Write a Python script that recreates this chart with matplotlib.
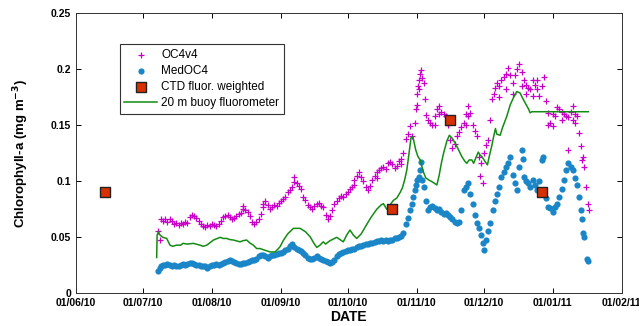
import matplotlib
matplotlib.use('Agg')
import matplotlib.pyplot as plt
import matplotlib.dates as mdates
from matplotlib.ticker import FormatStrFormatter
import numpy as np
import pandas as pd

plt.rcParams.update({'font.family': ['Liberation Sans', 'DejaVu Sans']})

BASE = pd.Timestamp('2010-06-01')

# OC4v4 satellite chl (days since 01/06/10)
oc4_days = [37, 37.5, 38, 39, 40, 41, 42, 43, 44, 45, 46, 47, 48, 49, 50,
            51, 52, 53, 54, 55, 56, 57, 58, 59, 60, 61, 62, 63, 64,
            65, 66, 67, 68, 69, 70, 71, 72, 73, 74, 75, 76, 77, 78, 79, 80,
            81, 82, 83, 84, 85, 86, 87, 88, 89, 90, 91, 92, 93, 94, 95, 96, 97, 98, 99, 100,
            101, 102, 103, 104, 105, 106, 107, 108, 109, 110, 111, 112, 113, 114, 115, 116, 117, 118, 119, 120,
            121, 122, 123, 124, 125, 126, 127, 128, 129, 130, 131, 132, 133, 134, 135, 136, 137, 138, 139, 140,
            141, 142, 143, 144, 145, 146, 147, 148, 149, 150, 151,
            152, 152.5, 153, 153.5, 154, 154.5, 155, 155.5, 156, 156.5, 157,
            158, 159, 160, 161, 162, 163, 164, 165, 166, 167, 168, 169, 170, 171, 172, 173, 174, 175, 176, 177, 178, 179, 180, 181,
            181.5, 182, 182.5, 183, 184, 185, 186, 186.7, 187.5, 188,
            189, 190, 191, 192, 193, 194, 195, 196, 197, 198, 199, 200, 201, 202, 203, 204, 205, 206, 207, 208,
            209, 210, 211, 212, 213, 214, 215, 216, 217, 218, 219, 220, 221, 222, 223, 224, 225, 226,
            226.5, 227, 227.5, 228, 229, 230, 230.3,
            190, 193, 196, 200, 202, 205, 207, 212, 214, 218, 221, 223, 224,
            153, 154, 161, 163, 175, 176, 98, 75, 84, 125, 135, 146]
oc4_vals = [.056, .048, .066, .065, .066, .064, .066, .065, .062, .063, .061, .063, .062, .064, .063,
            .068, .070, .069, .067, .065, .062, .060, .059, .061, .060, .062, .061, .060, .062,
            .065, .068, .069, .070, .068, .066, .067, .069, .071, .072, .078, .074, .073, .069, .064, .062,
            .064, .066, .071, .080, .082, .079, .075, .077, .079, .078, .081, .082, .084, .086, .090, .092, .095, .104, .098, .096,
            .093, .086, .083, .079, .077, .075, .078, .080, .081, .078, .077, .070, .066, .069, .074, .080, .082, .085, .087, .086,
            .089, .090, .093, .095, .101, .105, .108, .104, .100, .095, .092, .096, .101, .105, .108, .110, .112, .113, .111, .116,
            .117, .115, .112, .114, .118, .120, .125, .138, .142, .149, .140,
            .152, .164, .178, .185, .190, .196, .199, .192, .188, .173, .159,
            .155, .152, .150, .158, .164, .167, .162, .160, .158, .150, .137, .130, .133, .140, .144, .148, .152, .160, .167, .161, .150, .145, .140, .122,
            .105, .116, .098, .125, .132, .137, .155, .173, .178, .183,
            .188, .185, .190, .193, .196, .201, .195, .188, .195, .200, .205, .197, .190, .186, .183, .182, .190, .186, .182, .176,
            .185, .193, .172, .161, .152, .149, .158, .166, .164, .162, .160, .158, .157, .162, .167, .160, .158, .143,
            .131, .119, .122, .113, .095, .080, .074,
            .175, .182, .178, .185, .178, .176, .190, .150, .160, .155, .128, .155, .152,
            .168, .182, .150, .160, .150, .158, .099, .075, .077, .097, .103, .115]

# MedOC4 satellite chl
med_days = [37, 37.5, 38, 39, 40, 41, 42, 43, 44, 45, 46, 47, 48, 49, 50,
            51, 52, 53, 54, 55, 56, 57, 58, 59, 60, 61, 62, 63, 64,
            65, 66, 67, 68, 69, 70, 71, 72, 73, 74, 75, 76, 77, 78, 79, 80,
            81, 82, 83, 84, 85, 86, 87, 88, 89, 90, 91, 92, 93, 94, 95, 96, 97, 98, 99, 100,
            101, 102, 103, 104, 105, 106, 107, 108, 109, 110, 111, 112, 113, 114, 115, 116, 117, 118, 119, 120,
            121, 122, 123, 124, 125, 126, 127, 128, 129, 130, 131, 132, 133, 134, 135, 136, 137, 138, 139, 140,
            141, 142, 143, 144, 145, 146, 147, 148, 149, 150, 151, 151.5, 152, 152.5, 153, 154, 154.5, 155, 155.5,
            156, 157, 158, 159, 160, 161, 162, 163, 164, 165, 166, 167, 168, 169, 170, 171, 172,
            173, 174, 175, 176, 177, 178, 179, 180, 181, 182, 182.5, 183, 184, 185, 186, 187, 188, 189, 190,
            191, 192, 193, 194, 195, 196, 197, 198, 199, 200, 200.5, 201, 202, 203, 204, 205, 206, 207, 208, 209, 209.5,
            210, 211, 212, 213, 214, 215, 216, 217, 218, 219, 220, 221, 222, 223, 224, 225, 226, 226.5,
            227, 227.5, 228, 229.5, 230]
med_vals = [.020, .023, .024, .025, .025, .026, .025, .024, .025, .024, .024, .025, .026, .025, .026,
            .027, .027, .026, .025, .025, .024, .024, .024, .023, .024, .025, .025, .026, .025,
            .026, .027, .028, .029, .030, .029, .028, .027, .026, .026, .027, .027, .028, .029, .030, .030,
            .031, .033, .034, .034, .033, .032, .033, .034, .034, .035, .036, .036, .037, .039, .040, .042, .044, .041, .040, .039,
            .038, .036, .034, .032, .031, .031, .032, .033, .032, .031, .030, .029, .028, .027, .028, .030, .033, .035, .036, .037,
            .038, .039, .039, .040, .040, .041, .042, .042, .043, .044, .044, .045, .045, .046, .047, .047, .048, .047, .048, .047,
            .048, .048, .049, .049, .050, .051, .054, .062, .067, .074, .080, .086, .092, .097, .101, .104, .110, .117, .101,
            .095, .082, .074, .077, .078, .076, .074, .075, .073, .071, .072, .070, .068, .066, .064, .063, .064,
            .074, .092, .095, .098, .089, .080, .070, .063, .058, .052, .045, .039, .048, .056, .063, .074, .082, .089, .095,
            .104, .108, .113, .116, .122, .106, .098, .092, .113, .128, .120, .104, .100, .098, .095, .101, .097, .092, .100, .119, .122,
            .092, .085, .077, .076, .073, .077, .080, .086, .093, .101, .110, .116, .113, .110, .103, .097, .086, .074,
            .066, .054, .050, .031, .029]

# CTD fluorescence, depth weighted
ctd_days = [13, 142, 168, 209]
ctd_vals = [0.090, 0.075, 0.155, 0.090]

# 20 m buoy fluorometer
buoy_days = [36.2, 36.4, 37, 37.7, 39, 40.7, 42.2, 43.5, 45, 47, 48, 50, 52.7, 55.7, 57, 58.7, 60,
             61.7, 64.7, 66, 67.7, 69, 70.6, 73.6, 75, 76.6, 78, 79.6, 81.1, 82.6, 84, 85.6, 87, 89.4,
             91.6, 93, 95, 97.6, 100.6, 103, 105.1, 107, 108.1, 109.5, 111, 112, 114, 117, 118.5, 120,
             121.5, 123, 124.5, 126, 128, 130.5, 132.5, 135, 137, 138, 139.5, 141, 142.5, 144, 145.5,
             146.5, 147.5, 148.5, 149.5, 150.4, 151.2, 152.5, 153.5, 154.5, 156, 157, 158.5, 159.7, 161,
             162, 163, 164, 165, 166.5, 167.6, 169, 170.2, 171.5, 173.2, 174.5, 175.4, 176.5, 177.7,
             178.5, 179.5, 180.6, 181.5, 182.2, 183.5, 184.7, 185.5, 186.7, 187.5, 188.3, 188.9, 190.4,
             191.5, 193.4, 194.9, 196.5, 197.9, 199.4, 200.5, 201.6, 203, 203.9, 204.6, 230]
buoy_vals = [.032, .052, .055, .052, .050, .049, .043, .042, .043, .043, .0446, .044, .0446, .043, .042, .043, .045,
             .0476, .050, .049, .049, .048, .0476, .046, .047, .0476, .045, .043, .040, .040, .039, .038, .037, .037,
             .0416, .047, .053, .058, .058, .055, .0505, .044, .041, .043, .046, .044, .047, .050, .048, .046,
             .052, .0565, .052, .049, .053, .0615, .068, .075, .079, .080, .075, .079, .083, .085, .090,
             .094, .101, .110, .125, .139, .140, .128, .122, .119, .108, .103, .101, .0997, .098,
             .0967, .105, .116, .125, .136, .141, .138, .134, .129, .122, .118, .116, .119, .119,
             .116, .121, .126, .123, .122, .118, .1146, .122, .132, .140, .147, .142, .141,
             .148, .158, .168, .175, .180, .1786, .174, .170, .165, .161, .162, .162]


def to_dates(days):
    return BASE + pd.to_timedelta(np.asarray(days), unit='D')


fig, ax = plt.subplots(figsize=(6.39, 3.26), dpi=100)
fig.subplots_adjust(left=0.119, right=0.973, bottom=0.100, top=0.960)

ax.scatter(to_dates(oc4_days), oc4_vals, marker='+', s=22, lw=0.9, color='#C800C8', label='OC4v4', zorder=2)
ax.scatter(to_dates(med_days), med_vals, marker='o', s=20, lw=0, color='#1A86C8', label='MedOC4', zorder=2)
ax.scatter(to_dates(ctd_days), ctd_vals, marker='s', s=48, color='#D83000', edgecolor='#222222', lw=1,
           label='CTD fluor. weighted', zorder=4)
ax.plot(to_dates(buoy_days), buoy_vals, color='#138C13', lw=1.1, label='20 m buoy fluorometer', zorder=3)

ax.set_xlim(pd.Timestamp('2010-06-01'), pd.Timestamp('2011-02-01'))
ax.set_ylim(0, 0.25)
ax.xaxis.set_major_locator(mdates.MonthLocator())
ax.xaxis.set_major_formatter(mdates.DateFormatter('%d/%m/%y'))
ax.yaxis.set_major_formatter(FormatStrFormatter('%g'))
ax.tick_params(direction='in', top=True, right=True, length=3.5, width=0.7, labelsize=7.5)
for lab in ax.get_xticklabels() + ax.get_yticklabels():
    lab.set_fontweight('bold')
for sp in ax.spines.values():
    sp.set_linewidth(0.7)
    sp.set_color('#333333')

ax.set_xlabel('DATE', fontsize=10, fontweight='bold', labelpad=1)
ax.set_ylabel('Chlorophyll-a (mg m$^{\\mathbf{-3}}$)', fontsize=9.5, fontweight='bold', labelpad=14)

leg = ax.legend(loc='upper left', bbox_to_anchor=(0.08, 0.89), borderaxespad=0, fancybox=False,
                framealpha=1, edgecolor='#333333', fontsize=8.5, scatterpoints=1, labelspacing=0.35,
                handlelength=2.8, handletextpad=0.3, borderpad=0.4)
leg.get_frame().set_linewidth(0.8)

plt.savefig('out.png', dpi=100)
plt.close()
